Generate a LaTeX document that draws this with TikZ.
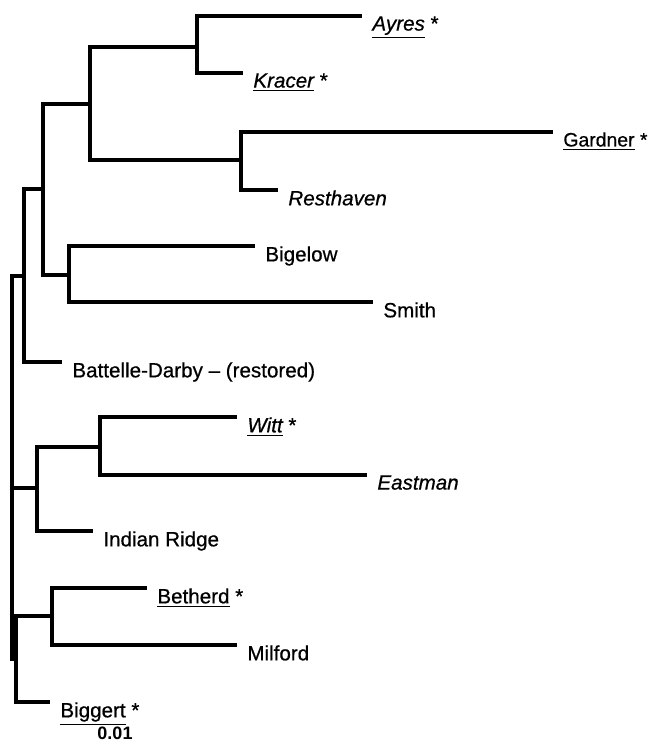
\documentclass[tikz,border=0pt]{standalone}
\usepackage{fontspec}
\setmainfont{Liberation Sans}
\newfontfamily\treefont{Liberation Sans}[Ligatures=TeX, FakeBold=0.6]
\usepackage{tikz}
\tikzset{branch/.style={line width=1.8pt, line join=miter}, leaf/.style={anchor=north west, inner xsep=5pt, inner ysep=0pt, font=\treefont\fontsize{10.3}{12}\selectfont}}
\begin{document}
\begin{tikzpicture}[x=0.5pt,y=-0.5pt]
            \useasboundingbox (0,0) rectangle (651,745);
            \coordinate (root) at (12,467);
            \coordinate (top) at (24,276);
            \coordinate (upper) at (43,189);
            \coordinate (akgr) at (90,104);
            \coordinate (ak) at (197,47);
            \coordinate (gr) at (241,160);
            \coordinate (bs) at (69,275);
            \coordinate (mid) at (37,488);
            \coordinate (we) at (100,447);
            \coordinate (low) at (16,659);
            \coordinate (bm) at (52,616);
            \node[leaf] (ayres) at (362,16) {\textit{\underline{Ayres}} *};
            \node[leaf] (kracer) at (243,73) {\textit{\underline{Kracer}} *};
            \node[leaf, font=\treefont\fontsize{9.7}{12}\selectfont] (gardner) at (553,132) {\underline{Gardner} *};
            \node[leaf] (resthaven) at (278,190) {\textit{Resthaven}};
            \node[leaf] (bigelow) at (255,246) {Bigelow};
            \node[leaf] (smith) at (373,302) {Smith};
            \node[leaf] (battelle) at (62,362) {Battelle-Darby -- (restored)};
            \node[leaf] (witt) at (237,417) {\textit{\underline{Witt}} *};
            \node[leaf] (eastman) at (367,475) {\textit{Eastman}};
            \node[leaf] (indian) at (93,531) {Indian Ridge};
            \node[leaf] (betherd) at (147,588) {\underline{Betherd} *};
            \node[leaf] (milford) at (237,645) {Milford};
            \node[leaf] (biggert) at (50,702) {\underline{Biggert} *};
            \node[anchor=north, inner sep=0pt, font=\fontsize{9}{10}\selectfont\bfseries] (scale) at (115,727) {0.01};
            \draw[branch](root)|-(top);
            \draw[branch](root)|-(mid);
            \draw[branch](root)|-(low);
            \draw[branch](top)|-(upper);
            \draw[branch](top)|-(battelle.north west);
            \draw[branch](upper)|-(akgr);
            \draw[branch](upper)|-(bs);
            \draw[branch](akgr)|-(ak);
            \draw[branch](akgr)|-(gr);
            \draw[branch](ak)|-(ayres.north west);
            \draw[branch](ak)|-(kracer.north west);
            \draw[branch](gr)|-(gardner.north west);
            \draw[branch](gr)|-(resthaven.north west);
            \draw[branch](bs)|-(bigelow.north west);
            \draw[branch](bs)|-(smith.north west);
            \draw[branch](mid)|-(we);
            \draw[branch](mid)|-(indian.north west);
            \draw[branch](we)|-(witt.north west);
            \draw[branch](we)|-(eastman.north west);
            \draw[branch](low)|-(bm);
            \draw[branch](low)|-(biggert.north west);
            \draw[branch](bm)|-(betherd.north west);
            \draw[branch](bm)|-(milford.north west);
        \end{tikzpicture}
\end{document}
